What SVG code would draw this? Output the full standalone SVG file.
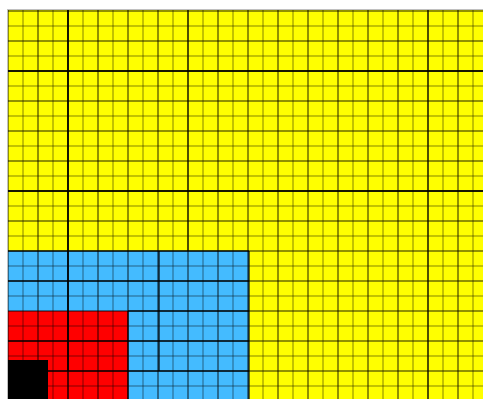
<svg xmlns="http://www.w3.org/2000/svg" width="483" height="399" viewBox="0 0 483 399">
<defs>
<style>
.med{stroke:#000;stroke-opacity:0.45;stroke-width:2}
.thick{stroke:#000;stroke-opacity:0.85;stroke-width:2}
.dk{stroke:#000;stroke-opacity:0.6;stroke-width:2}
</style>
<pattern id="g15" patternUnits="userSpaceOnUse" x="7" y="10" width="15" height="15">
<rect x="0" y="0" width="2" height="15" fill="#000" fill-opacity="0.24"/>
<rect x="0" y="0" width="15" height="2" fill="#000" fill-opacity="0.24"/>
</pattern>
<pattern id="g30" patternUnits="userSpaceOnUse" x="7" y="10" width="30" height="30">
<rect x="0" y="0" width="2" height="30" fill="#000" fill-opacity="0.25"/>
<rect x="0" y="0" width="30" height="2" fill="#000" fill-opacity="0.25"/>
</pattern>
</defs>
<rect x="0" y="0" width="483" height="399" fill="#fff"/>
<rect x="7" y="9" width="476" height="390" fill="#c0c0c0"/>
<rect x="8" y="10" width="475" height="389" fill="#ffff00"/>
<rect x="8" y="251" width="241" height="148" fill="#44bbff"/>
<rect x="8" y="311" width="120" height="88" fill="#ff0000"/>
<rect x="8" y="10" width="475" height="389" fill="url(#g15)"/>
<rect x="8" y="10" width="475" height="389" fill="url(#g30)"/>
<g id="major">
<line class="thick" x1="68" y1="10" x2="68" y2="371"/>
<line class="med" x1="68" y1="371" x2="68" y2="399"/>
<line class="med" x1="188" y1="10" x2="188" y2="251"/>
<line class="med" x1="428" y1="10" x2="428" y2="399"/>
<line class="thick" x1="8" y1="71" x2="483" y2="71"/>
<line class="thick" x1="8" y1="191" x2="483" y2="191"/>
<line class="dk" x1="8" y1="251" x2="249" y2="251"/>
<line class="dk" x1="249" y1="251" x2="249" y2="399"/>
<line class="dk" x1="128" y1="311" x2="128" y2="399"/>
<line class="dk" x1="159" y1="251" x2="159" y2="371"/>
<line class="dk" x1="8" y1="281" x2="249" y2="281"/>
<line class="dk" x1="128" y1="311" x2="249" y2="311"/>
<line class="dk" x1="8" y1="341" x2="249" y2="341"/>
<line class="dk" x1="8" y1="371" x2="249" y2="371"/>
</g>
<rect x="8" y="360" width="40" height="39" fill="#000"/>
</svg>
